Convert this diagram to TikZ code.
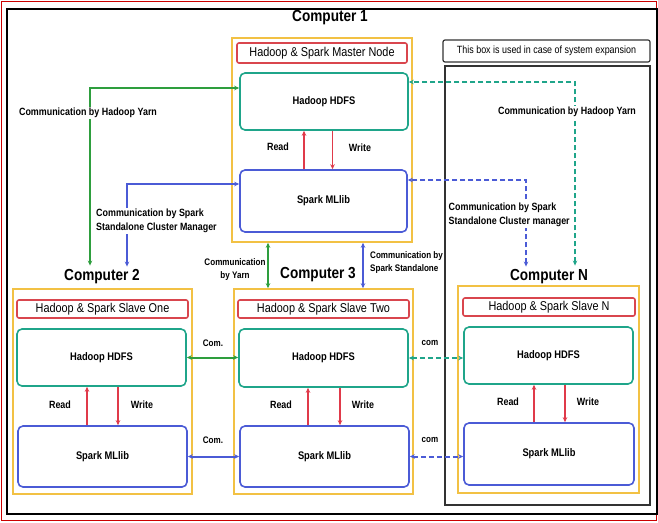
\documentclass[tikz,border=0pt]{standalone}
\usepackage{fontspec}
\setmainfont{Liberation Sans}[FakeStretch=0.85]
\usetikzlibrary{arrows.meta}
\definecolor{yelc}{HTML}{F2C144}
\definecolor{redc}{HTML}{D9464E}
\definecolor{tealc}{HTML}{1FA58A}
\definecolor{bluec}{HTML}{4B5BD6}
\definecolor{grnc}{HTML}{2E9E3E}
\definecolor{rwc}{HTML}{E03A4A}
\tikzset{
  yel/.style={draw=yelc, line width=1.6pt, inner sep=0pt},
  ttl/.style={draw=redc, line width=1.6pt, rounded corners=2pt, fill=white, inner sep=0pt,
    font=\fontsize{12.8}{14}\selectfont},
  hd/.style={draw=tealc, line width=1.6pt, rounded corners=5pt, inner sep=0pt,
    font=\fontsize{11}{13}\selectfont\bfseries},
  sp/.style={draw=bluec, line width=1.6pt, rounded corners=5pt, inner sep=0pt,
    font=\fontsize{11}{13}\selectfont\bfseries},
  comp/.style={font=\fontsize{16}{18}\selectfont\bfseries, inner sep=1pt},
  lbl/.style={font=\fontsize{10.5}{14}\selectfont\bfseries, inner sep=1pt, fill=white},
  slbl/.style={font=\fontsize{9.5}{13}\selectfont\bfseries, inner sep=1pt, fill=white},
  tip/.style={-{Stealth[length=5pt,width=4.5pt]}},
  btip/.style={{Stealth[length=5pt,width=4.5pt]}-{Stealth[length=5pt,width=4.5pt]}},
  rw/.style={draw=rwc, line width=1.6pt, tip},
  garr/.style={draw=grnc, line width=2pt},
  barr/.style={draw=bluec, line width=2pt},
  tdash/.style={draw=tealc, line width=2pt, dash pattern=on 5pt off 3pt},
  bdash/.style={draw=bluec, line width=2pt, dash pattern=on 5pt off 3pt},
}
\begin{document}
\begin{tikzpicture}[x=1pt,y=-1pt]
\useasboundingbox (0,0) rectangle (658,522);
% frame
\draw[red!80!black, line width=1pt] (1.5,1.5) rectangle (656.5,520.5);
\draw[black, line width=2.6pt] (7,9) rectangle (657,514);

% expansion box
\node[draw=black!80, line width=1.2pt, rounded corners=2pt, minimum width=207pt, minimum height=22pt, inner sep=0pt,
  font=\fontsize{10.5}{12}\selectfont] (exl) at (546.5,51) {This box is used in case of system expansion};
\draw[black!80, line width=1.2pt] (445,66) rectangle (650,505);

% titles
\node[comp] (c1) at (330,18) {Computer 1};
\node[comp] (c2) at (102,277) {Computer 2};
\node[comp] (c3) at (318,275) {Computer 3};
\node[comp] (cN) at (549,277) {Computer N};

% master
\node[yel, minimum width=180pt, minimum height=204pt] (yM) at (322,140) {};
\node[ttl, minimum width=170pt, minimum height=20pt] (tM) at (322,53) {Hadoop \& Spark Master Node};
\node[hd, minimum width=168pt, minimum height=57pt] (hM) at (324,101.5) {Hadoop HDFS};
\node[sp, minimum width=167pt, minimum height=62pt] (sM) at (323.5,201) {Spark MLlib};

% slave one
\node[yel, minimum width=179pt, minimum height=205pt] (y1) at (102.5,391.5) {};
\node[ttl, minimum width=171pt, minimum height=18pt] (t1) at (102.5,309) {Hadoop \& Spark Slave One};
\node[hd, minimum width=169pt, minimum height=57pt] (h1) at (101.5,357.5) {Hadoop HDFS};
\node[sp, minimum width=169pt, minimum height=61pt] (s1) at (102.5,456.5) {Spark MLlib};

% slave two
\node[yel, minimum width=179pt, minimum height=205pt] (y2) at (323.5,391.5) {};
\node[ttl, minimum width=171pt, minimum height=18pt] (t2) at (323.5,309) {Hadoop \& Spark Slave Two};
\node[hd, minimum width=169pt, minimum height=58pt] (h2) at (323.5,358) {Hadoop HDFS};
\node[sp, minimum width=169pt, minimum height=61pt] (s2) at (324.5,456.5) {Spark MLlib};

% slave N
\node[yel, minimum width=181pt, minimum height=207pt] (yN) at (548.5,389.5) {};
\node[ttl, minimum width=172pt, minimum height=18pt] (tN) at (549,307) {Hadoop \& Spark Slave N};
\node[hd, minimum width=169pt, minimum height=57pt] (hN) at (548.5,355.5) {Hadoop HDFS};
\node[sp, minimum width=170pt, minimum height=62pt] (sN) at (549,454) {Spark MLlib};

% read / write
\draw[rw] ([xshift=-19.5pt]sM.north) -- ([xshift=-19.5pt]sM.north |- hM.south);
\draw[rw] ([xshift=9pt]sM.north |- hM.south) -- ([xshift=9pt]sM.north);
\node[lbl, fill=none] (rM) at (278,147) {Read};
\node[lbl, fill=none] (wM) at (360,148) {Write};

\draw[rw] ([xshift=-15.5pt]s1.north) -- ([xshift=-15.5pt]s1.north |- h1.south);
\draw[rw] ([xshift=15.5pt]s1.north |- h1.south) -- ([xshift=15.5pt]s1.north);
\node[lbl, fill=none] (r1) at (60,405) {Read};
\node[lbl, fill=none] (w1) at (142,405) {Write};

\draw[rw] ([xshift=-16.5pt]s2.north) -- ([xshift=-16.5pt]s2.north |- h2.south);
\draw[rw] ([xshift=15.5pt]s2.north |- h2.south) -- ([xshift=15.5pt]s2.north);
\node[lbl, fill=none] (r2) at (281,405) {Read};
\node[lbl, fill=none] (w2) at (363,405) {Write};

\draw[rw] ([xshift=-15pt]sN.north) -- ([xshift=-15pt]sN.north |- hN.south);
\draw[rw] ([xshift=16pt]sN.north |- hN.south) -- ([xshift=16pt]sN.north);
\node[lbl, fill=none] (rN) at (508,402) {Read};
\node[lbl, fill=none] (wN) at (588,402) {Write};

% com arrows
\draw[garr, btip] (h1.east) -- (h1.east -| h2.west);
\node[slbl, fill=none] (cm1) at (213,343) {Com.};
\draw[barr, btip] (s1.east) -- (s1.east -| s2.west);
\node[slbl, fill=none] (cm2) at (213,440) {Com.};
\draw[tdash, btip] (h2.east) -- (h2.east -| hN.west);
\node[slbl, fill=none] (cm3) at (430,343) {com};
\draw[bdash, btip] (s2.east) -- (s2.east -| sN.west);
\node[slbl, fill=none] (cm4) at (430,440) {com};

% vertical master <-> slave two
\draw[garr, btip] ([xshift=-54pt]yM.south) -- ([xshift=-54pt]yM.south |- y2.north);
\node[slbl, fill=none, align=center] (cy) at (235,270) {Communication\\by Yarn};
\draw[barr, btip] ([xshift=41pt]yM.south) -- ([xshift=41pt]yM.south |- y2.north);
\node[slbl, fill=none, align=left, anchor=west] (cs) at (369,263) {Communication by\\Spark Standalone};

% left: hadoop yarn to computer 2
\coordinate (gy) at (90,88);
\draw[garr, btip] ([yshift=3pt]c2.north -| gy) -- (gy) -- (hM.west |- gy);
\node[lbl] (gyl) at (88,113) {Communication by Hadoop Yarn};
% left: spark standalone to computer 2
\coordinate (bs) at (127,184);
\draw[barr, btip] ([yshift=2pt]c2.north -| bs) -- (bs) -- (sM.west |- bs);
\node[lbl, align=left, anchor=west] (bsl) at (95,221) {Communication by Spark\\Standalone Cluster Manager};

% right: hadoop yarn to computer N
\coordinate (ty) at (575,82);
\draw[tdash, btip] ([yshift=3pt]cN.north -| ty) -- (ty) -- (hM.east |- ty);
\node[lbl] (tyl) at (567,112) {Communication by Hadoop Yarn};
% right: spark standalone to computer N
\coordinate (bd) at (526,180);
\draw[bdash, btip] ([yshift=2pt]cN.north -| bd) -- (bd) -- (sM.east |- bd);
\node[lbl, align=left, anchor=west] (bdl) at (447.5,215) {Communication by Spark\\Standalone Cluster manager};
\end{tikzpicture}
\end{document}
